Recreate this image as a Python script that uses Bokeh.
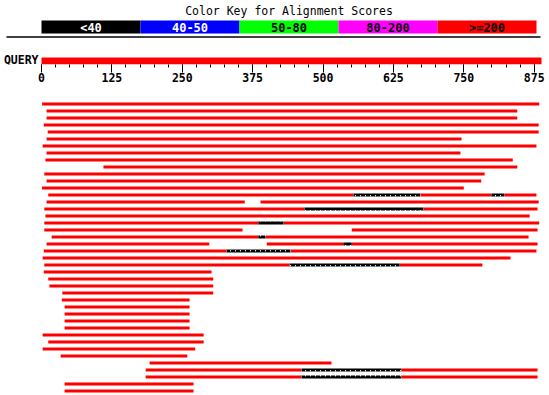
from bokeh.plotting import figure
from bokeh.models import Range1d, FixedTicker
from bokeh.layouts import column
from bokeh.core.properties import value
from bokeh.embed import file_html
from bokeh.resources import INLINE

# ---------------- data ----------------
QUERY_LEN = 888
TICKS = [0, 125, 250, 375, 500, 625, 750, 875]
MINOR_TICKS = list(range(0, 876, 25))

KEY_LABELS = ["<40", "40-50", "50-80", "80-200", ">=200"]
KEY_COLORS = ["#000000", "#0000ff", "#00ff00", "#ff00ff", "#ff0000"]
KEY_TEXT_COLORS = ["#ffffff", "#ffffff", "#000000", "#000000", "#000000"]

# aligned segments (score >= 200): hit row, query start, query end
SEG_ROW = [1, 2, 3, 4, 5, 6, 7, 8, 9, 10, 11, 12, 13,
           14, 14, 14,
           15, 15,
           16, 16,
           17,
           18, 18,
           19, 19,
           20, 20,
           21, 21, 21,
           22, 22,
           23,
           24, 24,
           25, 26, 27, 28, 29, 30, 31, 32, 33, 34, 35, 36, 37, 38,
           39, 39,
           40, 40,
           41, 42]
SEG_START = [1, 9, 9, 4, 11, 9, 2, 9, 7, 110, 5, 9, 1,
             12, 673, 822,
             9, 389,
             5, 678,
             7,
             5, 430,
             5, 551,
             18, 398,
             9, 400, 551,
             4, 442,
             2,
             5, 636,
             4, 12, 14, 37, 36, 41, 41, 41, 41, 2, 12, 2, 34, 192,
             185, 639,
             185, 639,
             41, 41]
SEG_END = [884, 845, 845, 883, 883, 746, 879, 744, 837, 845, 787, 781, 750,
           554, 799, 879,
           361, 883,
           467, 881,
           867,
           385, 884,
           357, 881,
           385, 865,
           298, 536, 881,
           329, 879,
           833,
           441, 783,
           302, 305, 305, 305, 263, 263, 263, 263, 263, 288, 288, 273, 259, 515,
           462, 881,
           462, 881,
           270, 270]

# unaligned stretches between segments of the same hit (hatched)
GAP_ROW = [14, 14, 16, 18, 20, 21, 22, 24, 39, 40]
GAP_START = [554, 799, 467, 385, 385, 536, 329, 441, 462, 462]
GAP_END = [673, 822, 678, 430, 398, 551, 442, 636, 639, 639]

# ---------------- layout ----------------
W, H_TOP, H_BOT = 549, 90, 305
LEFT_PX, FRAME_PX = 41, 500
PPU = FRAME_PX / QUERY_LEN
x_lo = -LEFT_PX / PPU
x_hi = (W - LEFT_PX) / PPU
MONO = "DejaVu Sans Mono"

# top: colour key + query ruler (y in pixels from top)
top = figure(width=W, height=H_TOP, output_backend="svg", toolbar_location=None,
             x_range=Range1d(x_lo, x_hi), y_range=Range1d(64, 0),
             y_axis_location=None, min_border=0, min_border_bottom=26,
             outline_line_color=None, background_fill_color="white")
top.grid.visible = False
ax = top.xaxis[0]
ax.ticker = FixedTicker(ticks=TICKS, minor_ticks=MINOR_TICKS)
ax.axis_line_color = None
ax.major_tick_in = 0
ax.major_tick_out = 8
ax.minor_tick_in = 0
ax.minor_tick_out = 3
ax.major_tick_line_color = "black"
ax.minor_tick_line_color = "black"
ax.major_label_text_font = MONO
ax.major_label_text_font_size = "11.5px"
ax.major_label_text_font_style = "bold"
ax.major_label_text_color = "black"
ax.major_label_standoff = 0

key_w = (FRAME_PX - 5) / 5 / PPU
key_left = [i * key_w for i in range(len(KEY_LABELS))]
key_right = [(i + 1) * key_w for i in range(len(KEY_LABELS))]
key_mid = [(i + 0.5) * key_w for i in range(len(KEY_LABELS))]
top.quad(left=key_left, right=key_right, top=20, bottom=33,
         fill_color=KEY_COLORS, line_color=None)
top.text(x=key_mid, y=[27] * len(KEY_LABELS), text=KEY_LABELS,
         text_color=KEY_TEXT_COLORS, text_font=value(MONO),
         text_font_size="12px", text_font_style="bold",
         text_align="center", text_baseline="middle")
top.text(x=[2.5 * key_w], y=[10.5], text=["Color Key for Alignment Scores"],
         text_color="black", text_font=value(MONO), text_font_size="11.5px",
         text_align="center", text_baseline="middle")
top.segment(x0=[(6 - LEFT_PX) / PPU], y0=[36.5], x1=[(540 - LEFT_PX) / PPU], y1=[36.5],
            line_color="black", line_width=1.5)
top.text(x=[(38 - LEFT_PX) / PPU], y=[59], text=["QUERY"], text_color="black",
         text_font=value(MONO), text_font_size="11.5px", text_font_style="bold",
         text_align="right", text_baseline="middle")
top.quad(left=[0], right=[QUERY_LEN], top=[57], bottom=[64],
         fill_color="#ff0000", line_color=None)

# bottom: hits, one row each
ROW_PX, BAR_PX, FIRST_ROW_PX = 7, 3, 13.5
y_top = -FIRST_ROW_PX / ROW_PX
y_bot = y_top + H_BOT / ROW_PX
bar_h = BAR_PX / ROW_PX
bot = figure(width=W, height=H_BOT, output_backend="svg", toolbar_location=None,
             x_range=Range1d(x_lo, x_hi), y_range=Range1d(y_bot, y_top),
             x_axis_location=None, y_axis_location=None, min_border=0,
             outline_line_color=None, background_fill_color="white")
bot.grid.visible = False
bot.quad(left=SEG_START, right=SEG_END,
         top=[r - 1 - bar_h / 2 for r in SEG_ROW],
         bottom=[r - 1 + bar_h / 2 for r in SEG_ROW],
         fill_color="#ff0000", line_color=None)
bot.quad(left=GAP_START, right=GAP_END,
         top=[r - 1 - bar_h / 2 for r in GAP_ROW],
         bottom=[r - 1 + bar_h / 2 for r in GAP_ROW],
         fill_color="white", hatch_pattern="/", hatch_color="black",
         hatch_scale=5, hatch_weight=2.5, line_color=None)

layout = column(top, bot, spacing=0)
open("out.html", "w").write(file_html(layout, INLINE))
